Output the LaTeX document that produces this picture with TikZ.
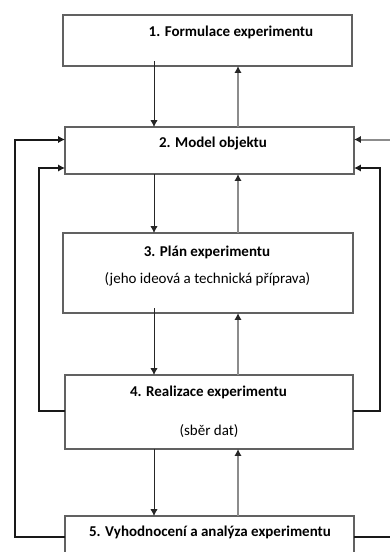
\documentclass[tikz,border=0pt]{standalone}
\usepackage{fontspec}
\setmainfont{Carlito}
\usetikzlibrary{arrows.meta}
\begin{document}
\begin{tikzpicture}[x=0.5pt,y=-0.5pt,
  box/.style={draw=black!62, line width=0.6pt, inner sep=0pt, outer sep=0pt},
  ttl/.style={font=\fontsize{7.5}{9}\selectfont\bfseries, inner sep=0pt, text=black},
  sub/.style={font=\fontsize{7.5}{9}\selectfont, inner sep=0pt, text=black},
  dn/.style={draw=black!85, line width=0.45pt, -{Latex[length=3.4pt,width=3.6pt]}},
  up/.style={draw=black!45, line width=0.8pt, -{Latex[length=3.4pt,width=3.6pt,fill=black!85,color=black!85]}},
  loop/.style={draw=black!90, line width=1pt, -{Latex[length=3.4pt,width=3.6pt]}},
  loopin/.style={draw=black!45, line width=1pt, -{Latex[length=3.4pt,width=3.6pt,fill=black!85,color=black!85]}},
  plain/.style={draw=black!90, line width=1pt}]
\useasboundingbox (0,0) rectangle (390,552);
\begin{scope}
\clip (0,0) rectangle (390,552);
\node[box, minimum width=144.5pt, minimum height=25.5pt] (b1) at (207.5,40.5) {};
\node[box, minimum width=144.5pt, minimum height=23.5pt] (b2) at (209.5,150.5) {};
\node[box, minimum width=145pt, minimum height=40pt] (b3) at (208,273) {};
\node[box, minimum width=144pt, minimum height=37pt] (b4) at (209,412) {};
\node[box, minimum width=144.5pt, minimum height=30pt] (b5) at (209.5,546) {};

\node[ttl] (t1) at (231,32) {1. Formulace experimentu};
\node[ttl] (t2) at (213,144) {2. Model objektu};
\node[ttl] (t3) at (207,252) {3. Plán experimentu};
\node[sub] (s3) at (207.5,279) {(jeho ideová a technická příprava)};
\node[ttl] (t4) at (208.5,392) {4. Realizace experimentu};
\node[sub] (s4) at (209,431) {(sběr dat)};
\node[ttl] (t5) at (210,532) {5. Vyhodnocení a analýza experimentu};

\coordinate (dx) at (154,0);
\coordinate (ux) at (238,0);
\coordinate (lo) at (15,0);
\coordinate (li) at (39,0);
\coordinate (ri) at (380,0);
\coordinate (ro) at (391,0);
\coordinate (yA) at (0,139.5);
\coordinate (yB) at (0,168);
\coordinate (yC) at (0,411);
\coordinate (yD) at (0,537);

% down arrows
\draw[dn] ([yshift=2.5pt]b1.south -| dx) -- (b2.north -| dx);
\draw[dn] (b2.south -| dx) -- (b3.north -| dx);
\draw[dn] ([yshift=2.5pt]b3.south -| dx) -- (b4.north -| dx);
\draw[dn] (b4.south -| dx) -- (b5.north -| dx);
% up arrows
\draw[up] (b2.north -| ux) -- (b1.south -| ux);
\draw[up] (b3.north -| ux) -- (b2.south -| ux);
\draw[up] (b4.north -| ux) -- (b3.south -| ux);
\draw[up] (b5.north -| ux) -- (b4.south -| ux);

% feedback loops
\draw[loop] (b5.west |- yD) -- (lo |- yD) -- (lo |- yA) -- (b2.west |- yA);
\draw[loop] (b4.west |- yC) -- (li |- yC) -- (li |- yB) -- (b2.west |- yB);
\draw[loop] (b4.east |- yC) -- (ri |- yC) -- (ri |- yB) -- (b2.east |- yB);
\draw[loopin] (ro |- yA) -- (b2.east |- yA);
\draw[plain] (b5.east |- yD) -- (ro |- yD);
\end{scope}
\end{tikzpicture}
\end{document}
